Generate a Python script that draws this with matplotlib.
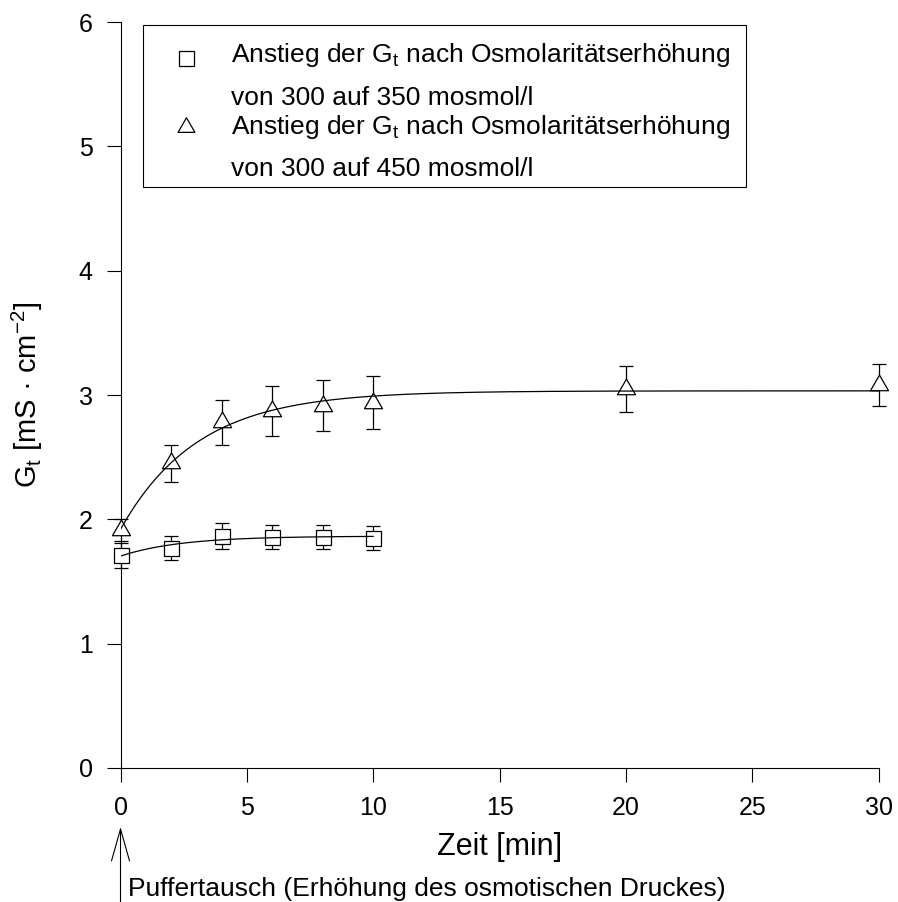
import numpy as np
import matplotlib
matplotlib.use("Agg")
import matplotlib.pyplot as plt
from matplotlib.patches import Rectangle
from matplotlib.path import Path
from matplotlib.lines import Line2D

plt.rcParams['font.family'] = 'Liberation Sans'
plt.rcParams['mathtext.fontset'] = 'custom'
plt.rcParams['mathtext.rm'] = 'Liberation Sans'
plt.rcParams['mathtext.it'] = 'Liberation Sans:italic'

# 300 -> 350 mosmol/l (squares)
t_350 = [0, 2, 4, 6, 8, 10]
g_350 = [1.71, 1.77, 1.865, 1.858, 1.858, 1.85]
err_350 = [0.10, 0.10, 0.105, 0.098, 0.098, 0.10]

# 300 -> 450 mosmol/l (triangles)
t_450 = [0, 2, 4, 6, 8, 10, 20, 30]
g_450 = [1.915, 2.45, 2.78, 2.87, 2.915, 2.94, 3.045, 3.08]
err_450 = [0.09, 0.15, 0.18, 0.20, 0.205, 0.21, 0.185, 0.17]

label_350 = ['Anstieg der G$_\\mathrm{t}$ nach Osmolaritätserhöhung', 'von 300 auf 350 mosmol/l']
label_450 = ['Anstieg der G$_\\mathrm{t}$ nach Osmolaritätserhöhung', 'von 300 auf 450 mosmol/l']


def fit_rise(t, y):
    # y = y0 + a * (1 - exp(-k t)), k by grid search, y0/a by least squares
    t = np.asarray(t, float)
    y = np.asarray(y, float)
    best = None
    for k in np.linspace(0.02, 2.0, 1000):
        X = np.column_stack([np.ones_like(t), 1 - np.exp(-k * t)])
        coef = np.linalg.lstsq(X, y, rcond=None)[0]
        r = np.sum((X @ coef - y) ** 2)
        if best is None or r < best[0]:
            best = (r, k, coef)
    _, k, (y0, a) = best
    tt = np.linspace(t.min(), t.max(), 300)
    return tt, y0 + a * (1 - np.exp(-k * tt))


tri = Path([(0, 0.577), (-0.5, -0.289), (0.5, -0.289), (0, 0.577)],
           [Path.MOVETO, Path.LINETO, Path.LINETO, Path.CLOSEPOLY])

fig = plt.figure(figsize=(8.98, 9.02), dpi=100)
ax = fig.add_axes([0.1342, 0.1486, 0.8441, 0.8268])

for t, g, e, m, ms in [(t_350, g_350, err_350, 's', 10.8), (t_450, g_450, err_450, tri, 15)]:
    eb = ax.errorbar(t, g, yerr=e, fmt='none', ecolor='k', elinewidth=0.9,
                     capsize=5, capthick=0.9, zorder=2)
    for a in list(eb.lines[1]) + list(eb.lines[2]):
        a.set_clip_on(False)
    ax.plot(t, g, ls='none', marker=m, ms=ms, mfc='white', mec='k', mew=0.9,
            zorder=3, clip_on=False)
    tt, yy = fit_rise(t, g)
    ax.plot(tt, yy, color='k', lw=0.9, zorder=4)

ax.set_xlim(0, 30)
ax.set_ylim(0, 6)
ax.set_xticks(range(0, 31, 5))
ax.set_yticks(range(0, 7))
ax.spines['top'].set_visible(False)
ax.spines['right'].set_visible(False)
for s in ['left', 'bottom']:
    ax.spines[s].set_linewidth(0.8)
ax.tick_params(direction='out', length=10, width=0.8, labelsize=18, pad=10)

ax.set_xlabel('Zeit [min]', fontsize=22)
ax.xaxis.set_label_coords(0.5, -0.086)
ax.set_ylabel('G$_\\mathrm{t}$ [mS · cm$^{-2}$]', fontsize=21)
ax.yaxis.set_label_coords(-0.099, 0.5)

# legend box drawn by hand
ax.add_patch(Rectangle((0.0293, 0.7786), 0.7959, 0.2176, transform=ax.transAxes,
                       fill=False, ec='k', lw=0.8, clip_on=False, zorder=5))
for lab, m, ms, ym, yb in [(label_350, 's', 10.8, 0.952, (0.9467, 0.8887)),
                           (label_450, tri, 14, 0.8595, (0.8498, 0.7942))]:
    ax.add_line(Line2D([0.0866], [ym], transform=ax.transAxes, ls='none', marker=m, ms=ms,
                       mfc='white', mec='k', mew=0.9, clip_on=False))
    for txt, yy in zip(lab, yb):
        ax.text(0.1454, yy, txt, transform=ax.transAxes, fontsize=19, va='baseline')

# buffer change arrow at t = 0
ax.annotate('', xy=(0, -0.0791), xycoords=('data', 'axes fraction'),
            xytext=(0, -0.1797), textcoords=('data', 'axes fraction'),
            arrowprops=dict(arrowstyle='->,head_length=2.3,head_width=0.65', color='k',
                            lw=0.8, shrinkA=0, shrinkB=0, mutation_scale=10),
            annotation_clip=False)
fig.text(128.3 / 898, 1 - 896 / 902, 'Puffertausch (Erhöhung des osmotischen Druckes)',
         fontsize=19, va='baseline', ha='left')

fig.savefig('out.png', dpi=100)
